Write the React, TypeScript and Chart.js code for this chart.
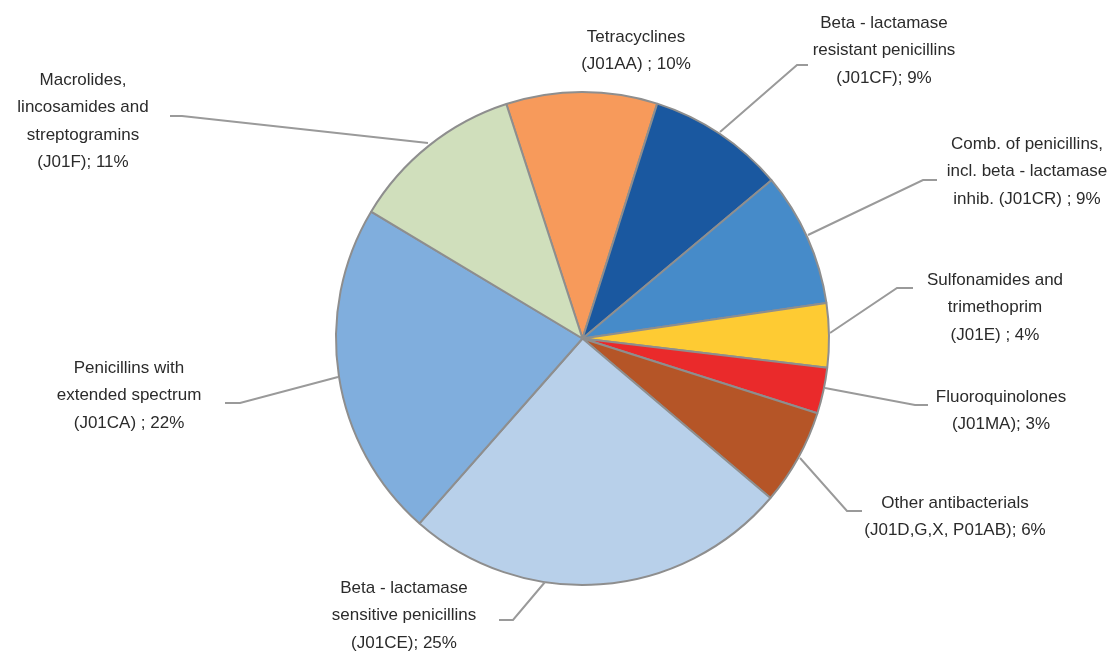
import React, { useEffect, useRef } from "react";
import { Chart, registerables } from "chart.js";

Chart.register(...registerables);

// ---- data ----
const categories = [
  "Tetracyclines (J01AA)",
  "Beta-lactamase resistant penicillins (J01CF)",
  "Comb. of penicillins, incl. beta-lactamase inhib. (J01CR)",
  "Sulfonamides and trimethoprim (J01E)",
  "Fluoroquinolones (J01MA)",
  "Other antibacterials (J01D,G,X, P01AB)",
  "Beta-lactamase sensitive penicillins (J01CE)",
  "Penicillins with extended spectrum (J01CA)",
  "Macrolides, lincosamides and streptogramins (J01F)",
];
const shares = [9.9, 9.0, 8.8, 4.2, 3.0, 6.3, 25.3, 22.1, 11.4];
const labelLines: string[][] = [
  ["Tetracyclines", "(J01AA) ; "],
  ["Beta - lactamase", "resistant penicillins", "(J01CF); "],
  ["Comb. of penicillins,", "incl. beta - lactamase", "inhib. (J01CR) ; "],
  ["Sulfonamides and", "trimethoprim", "(J01E) ; "],
  ["Fluoroquinolones", "(J01MA); "],
  ["Other antibacterials", "(J01D,G,X, P01AB); "],
  ["Beta - lactamase", "sensitive penicillins", "(J01CE); "],
  ["Penicillins with", "extended spectrum", "(J01CA) ; "],
  ["Macrolides,", "lincosamides and", "streptogramins", "(J01F); "],
];

// ---- styling / placement ----
const colors = [
  "#F79A5B",
  "#1A58A0",
  "#468BC9",
  "#FECB33",
  "#EA2A2B",
  "#B55527",
  "#B8D0EA",
  "#80AEDD",
  "#D0DFBC",
];
// label block centre x, first line y
const labelPos = [
  { x: 636, y: 37 },
  { x: 884, y: 23 },
  { x: 1027, y: 144 },
  { x: 995, y: 280 },
  { x: 1001, y: 397 },
  { x: 955, y: 503 },
  { x: 404, y: 588 },
  { x: 129, y: 368 },
  { x: 83, y: 80 },
];
const lineGap = 27.5;
// leader lines as polylines
const leaders: (number[][] | null)[] = [
  null,
  [[808, 65], [797, 65], [720, 132]],
  [[937, 180], [923, 180], [808, 235]],
  [[913, 288], [897, 288], [830, 333]],
  [[928, 405], [915, 405], [825, 388]],
  [[862, 511], [847, 511], [800, 458]],
  [[499, 620], [513, 620], [545, 582]],
  [[225, 403], [240, 403], [338, 377]],
  [[170, 116], [182, 116], [428, 143]],
];

const labelPlugin = {
  id: "sliceLabels",
  afterDraw(chart: any) {
    const ctx = chart.ctx;
    const total = shares.reduce((a, b) => a + b, 0);
    ctx.save();
    ctx.strokeStyle = "#9A9A9A";
    ctx.lineWidth = 2;
    leaders.forEach((pts) => {
      if (!pts) return;
      ctx.beginPath();
      ctx.moveTo(pts[0][0], pts[0][1]);
      for (let i = 1; i < pts.length; i++) ctx.lineTo(pts[i][0], pts[i][1]);
      ctx.stroke();
    });
    ctx.fillStyle = "#2B2B2B";
    ctx.font = "17px 'Liberation Sans', Arial, sans-serif";
    ctx.textAlign = "center";
    ctx.textBaseline = "middle";
    labelLines.forEach((lines, i) => {
      const pct = Math.round((shares[i] / total) * 100);
      const p = labelPos[i];
      lines.forEach((ln, j) => {
        const txt = j === lines.length - 1 ? ln + pct + "%" : ln;
        ctx.fillText(txt, p.x, p.y + j * lineGap);
      });
    });
    ctx.restore();
  },
};

export default function App() {
  const ref = useRef<HTMLCanvasElement | null>(null);
  useEffect(() => {
    document.body.style.margin = "0";
    const chart = new Chart(ref.current as HTMLCanvasElement, {
      type: "pie",
      data: {
        labels: categories,
        datasets: [
          {
            data: shares,
            backgroundColor: colors,
            borderColor: "#8E8E8E",
            borderWidth: 2,
          },
        ],
      },
      options: {
        responsive: false,
        animation: false,
        rotation: -18,
        layout: { padding: { left: 335, right: 290, top: 91, bottom: 69 } },
        plugins: {
          legend: { display: false },
          tooltip: { enabled: false },
        },
      },
      plugins: [labelPlugin],
    });
    return () => chart.destroy();
  }, []);
  return (
    <div style={{ width: 1120, height: 655, background: "#fff" }}>
      <canvas ref={ref} width={1120} height={655} style={{ display: "block" }} />
    </div>
  );
}
